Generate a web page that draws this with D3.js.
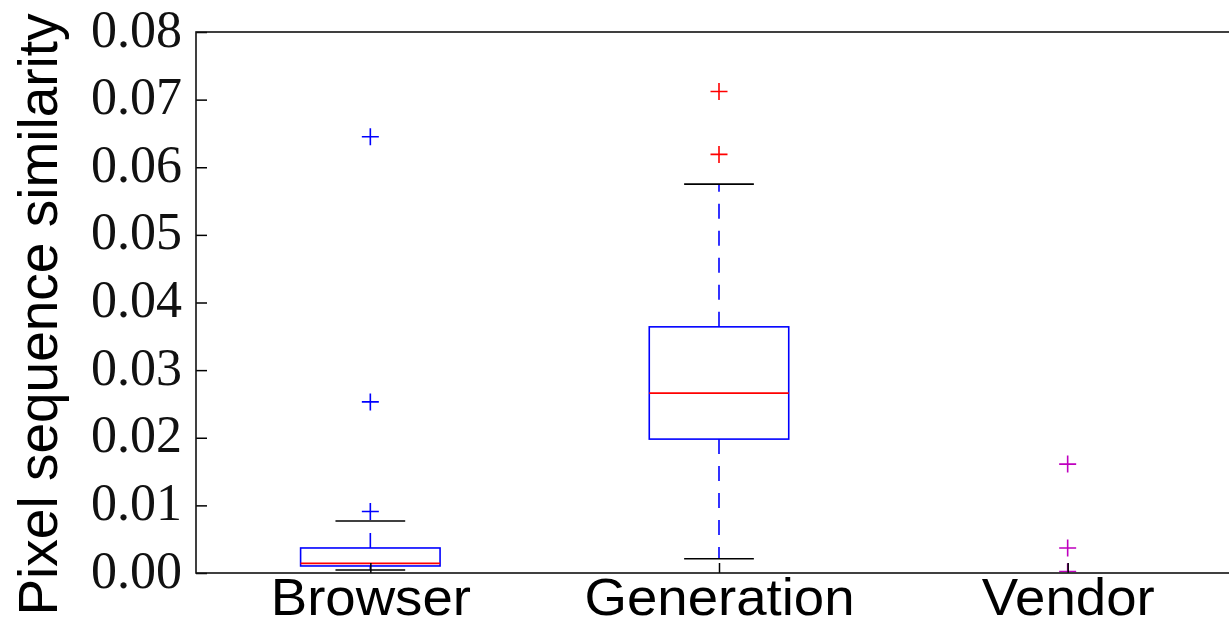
<!DOCTYPE html>
<html>
<head>
<meta charset="utf-8">
<script src="https://cdn.jsdelivr.net/npm/d3@7"></script>
<style>
  body { margin: 0; background: #fff; }
</style>
</head>
<body>
<div class="canvas"></div>
<script>
// data
const categories = ["Browser", "Generation", "Vendor"];
const q1 = [0.00104, 0.0198, 0];
const medians = [0.00143, 0.0266, 0];
const q3 = [0.0037, 0.0364, 0];
const whiskerLow = [0.00044, 0.0021, 0];
const whiskerHigh = [0.0077, 0.0575, 0];
const outliers = [[0.0645, 0.0253, 0.0091], [0.0619, 0.0712], [0.0161, 0.0037, 0.0002]];
const yTicks = [0, 0.01, 0.02, 0.03, 0.04, 0.05, 0.06, 0.07, 0.08];

const flierColors = ["#0000ff", "#ff0000", "#bf00bf"];

// dimensions (right spine falls off the canvas, like the original crop)
const W = 1229, H = 626;
const margin = { top: 32, left: 196, bottom: 53 };
const plotRight = 1242;

const x = d3.scaleLinear()
    .domain([0.5, 3.5])
    .range([margin.left, plotRight]);

const y = d3.scaleLinear()
    .domain([0, 0.08])
    .range([H - margin.bottom, margin.top]);

const svg = d3.select(".canvas")
    .append("svg")
        .attr("width", W)
        .attr("height", H);

// clip a hair above the bottom spine so marks sitting at 0 hide under it
svg.append("clipPath").attr("id", "plot-clip")
  .append("rect")
    .attr("x", x(0.5)).attr("y", y(0.08))
    .attr("width", x(3.5) - x(0.5))
    .attr("height", y(0) - y(0.08) - 1);

const boxes = categories.map((c, i) => ({
    pos: i + 1, q1: q1[i], med: medians[i], q3: q3[i],
    lo: whiskerLow[i], hi: whiskerHigh[i], fliers: outliers[i], color: flierColors[i]
}));

const boxW = 0.4, capW = 0.2;

const g = svg.append("g").attr("clip-path", "url(#plot-clip)");

boxes.forEach(b => {
    // whiskers (dashed, drawn from the box outwards)
    [[b.q3, b.hi], [b.q1, b.lo]].forEach(([from, to]) => {
        g.append("line")
            .attr("x1", x(b.pos)).attr("x2", x(b.pos))
            .attr("y1", y(from)).attr("y2", y(to))
            .attr("stroke", "#0000ff")
            .attr("stroke-width", 1.6)
            .attr("stroke-dasharray", "15,12");
    });
    // caps
    [b.lo, b.hi].forEach(v => {
        g.append("line")
            .attr("x1", x(b.pos - capW / 2)).attr("x2", x(b.pos + capW / 2))
            .attr("y1", y(v)).attr("y2", y(v))
            .attr("stroke", "#000")
            .attr("stroke-width", 1.6);
    });
    // box
    g.append("rect")
        .attr("x", x(b.pos - boxW / 2))
        .attr("y", y(b.q3))
        .attr("width", x(b.pos + boxW / 2) - x(b.pos - boxW / 2))
        .attr("height", y(b.q1) - y(b.q3))
        .attr("fill", "none")
        .attr("stroke", "#0000ff")
        .attr("stroke-width", 1.6);
    // median
    g.append("line")
        .attr("x1", x(b.pos - boxW / 2)).attr("x2", x(b.pos + boxW / 2))
        .attr("y1", y(b.med)).attr("y2", y(b.med))
        .attr("stroke", "#ff0000")
        .attr("stroke-width", 1.6);
    // fliers as plus signs
    b.fliers.forEach(v => {
        const cx = x(b.pos), cy = y(v), s = 8.5;
        g.append("path")
            .attr("d", `M${cx - s},${cy}H${cx + s}M${cx},${cy - s}V${cy + s}`)
            .attr("stroke", b.color)
            .attr("stroke-width", 1.6)
            .attr("fill", "none");
    });
});

// y axis with inward ticks
const yAxis = svg.append("g")
    .attr("transform", `translate(${margin.left},0)`)
    .call(d3.axisLeft(y)
        .tickValues(yTicks)
        .tickSize(-11)
        .tickPadding(14)
        .tickFormat(d3.format(".2f")));
yAxis.select(".domain").remove();
yAxis.selectAll(".tick line").attr("stroke", "#000").attr("stroke-width", 1.5);
yAxis.selectAll(".tick text")
    .attr("dy", "0.27em")
    .attr("fill", "#111")
    .style("font-family", "'Liberation Serif', 'DejaVu Serif', serif")
    .style("font-size", "52px");

// x axis with inward ticks
const xAxis = svg.append("g")
    .attr("transform", `translate(0,${y(0)})`)
    .call(d3.axisBottom(x)
        .tickValues([1, 2, 3])
        .tickSize(-10)
        .tickPadding(5)
        .tickFormat(d => categories[d - 1]));
xAxis.select(".domain").remove();
xAxis.selectAll(".tick line").attr("stroke", "#000").attr("stroke-width", 1.5);
xAxis.selectAll(".tick text")
    .attr("fill", "#000")
    .attr("transform", "scale(1.05,1)")
    .style("font-family", "'Liberation Sans', Arial, sans-serif")
    .style("font-size", "52px");

// frame
svg.append("rect")
    .attr("x", x(0.5)).attr("y", y(0.08))
    .attr("width", x(3.5) - x(0.5))
    .attr("height", y(0) - y(0.08))
    .attr("fill", "none")
    .attr("stroke", "#111")
    .attr("stroke-width", 1.6);

// y label
svg.append("text")
    .attr("transform", `translate(57,${(y(0) + y(0.08)) / 2 + 12}) rotate(-90)`)
    .attr("text-anchor", "middle")
    .attr("fill", "#000")
    .style("font-family", "'Liberation Sans', Arial, sans-serif")
    .style("font-size", "55px")
    .text("Pixel sequence similarity");
</script>
</body>
</html>
